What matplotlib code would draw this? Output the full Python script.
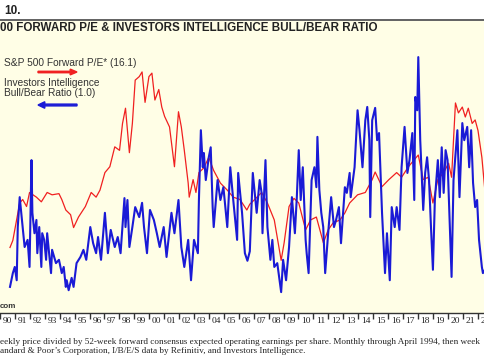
import numpy as np
import matplotlib
matplotlib.use("Agg")
import matplotlib.pyplot as plt
from matplotlib.patches import Rectangle, FancyArrow

# S&P 500 forward P/E (right scale)
pe_year = [1990.67, 1990.86, 1991.32, 1991.52, 1991.78, 1991.98, 1992.44, 1992.77, 1993.16, 1993.49,
           1993.95, 1994.14, 1994.41, 1994.73, 1994.93, 1995.26, 1995.72, 1996.11, 1996.44, 1996.70,
           1997.03, 1997.36, 1997.69, 1998.01, 1998.21, 1998.41, 1998.67, 1998.87, 1999.06, 1999.33,
           1999.52, 1999.72, 1999.98, 2000.18, 2000.38, 2000.64, 2000.84, 2001.03, 2001.36, 2001.69,
           2001.96, 2002.15, 2002.35, 2002.61, 2002.68, 2002.94, 2003.13, 2003.33, 2003.66, 2003.99,
           2004.31, 2004.77, 2005.23, 2005.63, 2006.08, 2006.54, 2006.74, 2007.07, 2007.53, 2007.92,
           2008.38, 2008.84, 2009.04, 2009.37, 2009.70, 2010.02, 2010.48, 2010.81, 2011.20, 2011.67,
           2011.99, 2012.32, 2012.78, 2013.11, 2013.43, 2013.96, 2014.48, 2014.94, 2015.14, 2015.60,
           2016.06, 2016.58, 2016.91, 2017.37, 2017.76, 2018.03, 2018.36, 2018.69, 2019.01, 2019.34,
           2019.73, 2020.06, 2020.26, 2020.52, 2020.72, 2020.98, 2021.18, 2021.38, 2021.64, 2021.84,
           2022.03, 2022.29, 2022.49]
pe_value = [10.6, 11.2, 14.4, 14.7, 14.1, 15.3, 14.9, 14.5, 15.3, 15.1,
            15.2, 14.7, 13.8, 13.4, 12.3, 13.2, 14.1, 15.3, 14.9, 15.5,
            17.0, 17.5, 19.2, 18.9, 21.2, 22.5, 18.7, 21.2, 24.9, 25.2,
            25.6, 23.0, 25.2, 25.5, 23.2, 24.1, 22.6, 21.8, 20.9, 17.5,
            22.2, 20.9, 18.9, 16.1, 14.9, 16.4, 15.3, 17.0, 17.4, 18.3,
            17.2, 16.1, 15.5, 14.9, 14.7, 13.8, 14.3, 14.7, 15.3, 14.4,
            12.95, 9.5, 11.0, 14.1, 14.8, 14.4, 12.1, 12.95, 13.2, 11.0,
            12.1, 12.7, 12.95, 13.55, 14.4, 15.1, 15.3, 16.4, 17.05, 15.8,
            16.4, 17.0, 16.6, 17.5, 18.1, 18.5, 16.4, 16.6, 14.4, 16.4,
            17.0, 17.8, 16.6, 22.95, 22.1, 22.6, 21.75, 22.5, 21.2, 21.5,
            20.6, 18.3, 15.5]

# Investors Intelligence bull/bear ratio (left scale)
bb_year = [1990.67, 1990.86, 1990.99, 1991.12, 1991.19, 1991.32, 1991.52, 1991.65, 1991.85, 1991.98,
           1992.11, 1992.17, 1992.31, 1992.44, 1992.50, 1992.63, 1992.77, 1992.83, 1992.96, 1993.09,
           1993.16, 1993.29, 1993.42, 1993.49, 1993.75, 1993.95, 1994.14, 1994.27, 1994.41, 1994.47,
           1994.60, 1994.80, 1994.93, 1995.13, 1995.39, 1995.59, 1995.78, 1996.05, 1996.24, 1996.44,
           1996.57, 1996.77, 1997.03, 1997.23, 1997.42, 1997.69, 1997.89, 1998.08, 1998.34, 1998.41,
           1998.54, 1998.67, 1998.87, 1999.06, 1999.33, 1999.52, 1999.65, 1999.85, 2000.05, 2000.31,
           2000.51, 2000.70, 2000.97, 2001.16, 2001.49, 2001.69, 2001.96, 2002.15, 2002.35, 2002.61,
           2002.80, 2003.00, 2003.26, 2003.33, 2003.46, 2003.59, 2003.66, 2003.79, 2003.99, 2004.12,
           2004.25, 2004.32, 2004.58, 2004.77, 2004.97, 2005.23, 2005.43, 2005.63, 2005.89, 2005.96,
           2006.22, 2006.41, 2006.58, 2006.74, 2006.94, 2007.20, 2007.40, 2007.53, 2007.59, 2007.79,
           2007.92, 2008.12, 2008.25, 2008.38, 2008.58, 2008.84, 2008.97, 2009.17, 2009.37, 2009.56,
           2009.76, 2009.89, 2010.02, 2010.15, 2010.29, 2010.48, 2010.55, 2010.68, 2010.81, 2010.88,
           2011.07, 2011.20, 2011.27, 2011.40, 2011.53, 2011.66, 2011.79, 2011.99, 2012.19, 2012.38,
           2012.52, 2012.71, 2012.85, 2013.11, 2013.24, 2013.43, 2013.50, 2013.76, 2013.96, 2014.09,
           2014.29, 2014.48, 2014.61, 2014.75, 2014.81, 2014.94, 2015.14, 2015.27, 2015.40, 2015.60,
           2015.80, 2015.93, 2016.12, 2016.25, 2016.45, 2016.58, 2016.77, 2016.91, 2017.11, 2017.30,
           2017.44, 2017.63, 2017.76, 2017.83, 2017.96, 2018.03, 2018.16, 2018.36, 2018.49, 2018.62,
           2018.75, 2018.88, 2019.01, 2019.14, 2019.34, 2019.47, 2019.60, 2019.73, 2019.86, 2019.99,
           2020.26, 2020.39, 2020.65, 2020.79, 2020.98, 2021.11, 2021.31, 2021.44, 2021.57, 2021.70,
           2021.84, 2021.97, 2022.10, 2022.29, 2022.36, 2022.49]
bb_value = [0.55, 0.84, 0.97, 0.69, 1.81, 2.44, 1.81, 1.39, 1.54, 0.97,
            3.22, 2.11, 1.68, 1.96, 1.26, 1.81, 0.97, 1.68, 1.54, 1.12,
            1.68, 1.26, 0.84, 1.33, 1.05, 1.12, 0.84, 0.97, 0.55, 0.69,
            0.48, 0.74, 0.55, 1.05, 1.18, 1.33, 1.12, 1.81, 1.47, 1.26,
            1.60, 1.12, 2.11, 1.26, 1.75, 1.39, 1.60, 1.26, 2.42, 1.81,
            2.38, 1.39, 1.81, 2.23, 2.02, 2.32, 1.81, 1.26, 2.17, 1.96,
            1.68, 1.39, 1.81, 1.18, 2.11, 1.68, 2.38, 1.39, 0.97, 1.54,
            0.69, 1.54, 1.26, 2.38, 3.85, 3.07, 3.37, 2.80, 3.28, 3.49,
            2.23, 1.81, 2.80, 2.38, 2.65, 1.81, 3.07, 2.38, 1.54, 2.95,
            2.11, 1.26, 1.10, 1.30, 2.95, 2.11, 2.80, 2.53, 1.68, 3.22,
            1.81, 1.12, 1.54, 0.97, 1.05, 0.44, 1.12, 0.69, 1.39, 2.44,
            1.68, 2.44, 3.43, 2.38, 3.07, 1.54, 1.26, 0.84, 2.11, 2.80,
            3.07, 2.65, 3.71, 2.59, 2.11, 1.81, 0.84, 1.68, 2.44, 1.81,
            1.96, 2.23, 1.47, 2.65, 2.53, 2.95, 2.44, 3.07, 4.27, 3.85,
            3.07, 4.06, 4.34, 3.64, 2.02, 4.06, 4.32, 3.64, 3.79, 2.11,
            0.84, 1.68, 0.69, 2.23, 1.81, 2.23, 1.75, 3.07, 3.92, 2.95,
            3.22, 3.79, 2.38, 4.55, 4.27, 5.39, 3.64, 2.17, 2.95, 3.28,
            2.80, 1.81, 0.91, 2.38, 3.22, 2.44, 3.49, 2.53, 3.43, 3.22,
            0.76, 2.80, 3.85, 2.44, 4.00, 3.64, 3.92, 3.07, 3.85, 2.74,
            2.23, 2.38, 1.54, 0.97, 0.84, 0.91]

years = list(range(1990, 2023))
year_labels = [str(y)[-2:] for y in years]

W, H = 485, 360
fig = plt.figure(figsize=(W / 100, H / 100), dpi=100)
cream = "#fffee6"
red = "#f02020"
blue = "#1a1ad6"

def fy(py):
    return 1 - py / H

# cream panel and rule under the chart number
fig.patches.append(Rectangle((0, fy(313)), 1, fy(21) - fy(313), transform=fig.transFigure,
                             facecolor=cream, edgecolor="none", zorder=-5))
fig.lines.append(plt.Line2D([0, 1], [fy(19.5), fy(19.5)], transform=fig.transFigure,
                            color="#555555", lw=1.3))

ax = fig.add_axes([0, fy(313), 1, fy(40) - fy(313)])
ax.set_facecolor("none")
ax2 = ax.twinx()
ax2.set_facecolor("none")
ax2.set_zorder(1)
ax.set_zorder(2)

ax.plot(bb_year, bb_value, color=blue, lw=1.5)
ax2.plot(pe_year, pe_value, color=red, lw=0.9)

ax.set_ylim(0, 5.75)
ax2.set_ylim(5, 28.33)
ax.set_xlim(1990.665, 2022.49)

for a in (ax, ax2):
    for s in ("top", "left", "right"):
        a.spines[s].set_visible(False)
    a.set_yticks([])
ax2.spines["bottom"].set_visible(False)
ax.spines["bottom"].set_color("#333333")
ax.spines["bottom"].set_linewidth(1.0)

ax.set_xticks(years)
ax.set_xticklabels([])
ax.tick_params(axis="x", which="major", direction="out", length=4, width=1, color="#333333")
ax.set_xticks([y + 0.5 for y in years], minor=True)
ax.set_xticklabels(year_labels, minor=True, fontsize=6.8, family="Liberation Serif", color="#222222")
ax.tick_params(axis="x", which="minor", length=0, pad=3)

fig.text(4 / W, fy(11), "10.", fontsize=8.5, fontweight="bold", family="Liberation Sans",
         va="center", ha="left", color="#222222")
fig.text(0, fy(28), "00 FORWARD P/E & INVESTORS INTELLIGENCE BULL/BEAR RATIO", fontsize=8.4,
         fontweight="bold", family="Liberation Sans", va="center", ha="left", color="#222222")

fig.text(4 / W, fy(63), "S&P 500 Forward P/E* (16.1)", fontsize=7.3, family="Liberation Sans",
         va="center", ha="left", color="#333333")
fig.text(4 / W, fy(83), "Investors Intelligence", fontsize=7.3, family="Liberation Sans",
         va="center", ha="left", color="#333333")
fig.text(4 / W, fy(93), "Bull/Bear Ratio (1.0)", fontsize=7.3, family="Liberation Sans",
         va="center", ha="left", color="#333333")
fig.patches.append(FancyArrow(38 / W, fy(72), 39 / W, 0, width=0.004, head_width=0.016,
                              head_length=0.014, length_includes_head=True,
                              transform=fig.transFigure, color=red))
fig.patches.append(FancyArrow(77 / W, fy(105), -39 / W, 0, width=0.005, head_width=0.018,
                              head_length=0.014, length_includes_head=True,
                              transform=fig.transFigure, color=blue))

fig.text(0, fy(306), "com", fontsize=5.8, fontweight="bold", family="Liberation Sans",
         va="center", ha="left", color="#333333")

fig.text(0, fy(342), "eekly price divided by 52-week forward consensus expected operating earnings per share. "
         "Monthly through April 1994, then week", fontsize=6.6, family="Liberation Serif",
         va="center", ha="left", color="#222222")
fig.text(0, fy(351), "andard & Poor\u2019s Corporation, I/B/E/S data by Refinitiv, and Investors Intelligence.",
         fontsize=6.6, family="Liberation Serif", va="center", ha="left", color="#222222")

fig.savefig("out.png", dpi=100, facecolor="white")
